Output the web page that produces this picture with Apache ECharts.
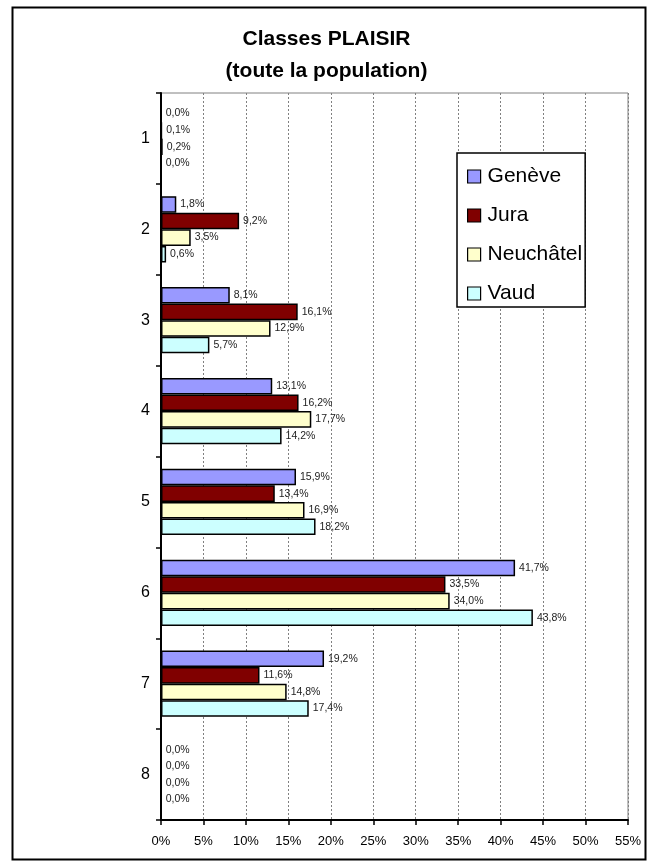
<!DOCTYPE html>
<html><head><meta charset="utf-8">
<script src="https://cdn.jsdelivr.net/npm/echarts@6/dist/echarts.min.js"></script>
<style>html,body{margin:0;padding:0;background:#fff}#c{width:653px;height:863px}</style>
</head><body><div id="c"></div>
<script>
const categories = ['1','2','3','4','5','6','7','8'];
const seriesNames = ['Genève','Jura','Neuchâtel','Vaud'];
const geneve = [0.0, 1.8, 8.1, 13.1, 15.9, 41.7, 19.2, 0.0];
const jura = [0.1, 9.2, 16.1, 16.2, 13.4, 33.5, 11.6, 0.0];
const neuchatel = [0.2, 3.5, 12.9, 17.7, 16.9, 34.0, 14.8, 0.0];
const vaud = [0.0, 0.6, 5.7, 14.2, 18.2, 43.8, 17.4, 0.0];
const colors = ['#9999FF','#800000','#FFFFCC','#CCFFFF'];
const FONT = 'Arial, "Liberation Sans", sans-serif';
const values = [geneve, jura, neuchatel, vaud];

const chart = echarts.init(document.getElementById('c'));
chart.setOption({
  animation: false,
  backgroundColor: '#fff',
  title: {
    text: 'Classes PLAISIR\n(toute la population)',
    left: 'center', top: 18,
    textStyle: {fontFamily: FONT, fontSize: 21, fontWeight: 'bold', color: '#000', lineHeight: 32}
  },
  graphic: [{
    type: 'rect', left: 10, top: 5, shape: {width: 633, height: 852},
    style: {fill: 'none', stroke: '#000', lineWidth: 2}, z: 100
  }],
  legend: {
    orient: 'vertical', left: 457, top: 153,
    padding: [13, 3, 3, 10],
    itemGap: 18,
    itemWidth: 13, itemHeight: 13,
    backgroundColor: '#fff', borderColor: '#000', borderWidth: 1.5,
    textStyle: {fontFamily: FONT, fontSize: 21, color: '#000', padding: [0,0,0,2]},
    data: seriesNames.map((n) => ({name: n, icon: 'rect'})),
    itemStyle: {borderColor: '#000', borderWidth: 1.2}
  },
  grid: {left: 161, right: 25, top: 93, bottom: 43, show: true, borderColor: '#808080', borderWidth: 1, backgroundColor: 'transparent'},
  xAxis: {
    type: 'value', min: 0, max: 55, interval: 5,
    axisLine: {show: true, lineStyle: {color: '#000', width: 2}},
    axisTick: {show: true, length: 5, lineStyle: {color: '#000', width: 1.5}},
    axisLabel: {formatter: '{value}%', fontFamily: FONT, fontSize: 13, color: '#000', margin: 15},
    splitLine: {show: true, lineStyle: {color: '#808080', type: [2, 2], width: 1}}
  },
  yAxis: {
    type: 'category', data: categories, inverse: true,
    axisLine: {show: true, lineStyle: {color: '#000', width: 2}},
    axisTick: {show: true, length: 5, lineStyle: {color: '#000', width: 1.5}},
    axisLabel: {fontFamily: FONT, fontSize: 16, color: '#000', margin: 11},
    splitLine: {show: false}
  },
  series: seriesNames.map((n, i) => ({
    name: n, type: 'bar', data: values[i],
    barGap: '0%', barCategoryGap: '27%',
    itemStyle: {color: colors[i], borderColor: '#000', borderWidth: 1.5},
    label: {
      show: true, position: 'right', distance: 4,
      fontFamily: FONT, fontSize: 10.5, color: '#222',
      formatter: (p) => p.value.toFixed(1).replace('.', ',') + '%'
    }
  }))
});
</script></body></html>
